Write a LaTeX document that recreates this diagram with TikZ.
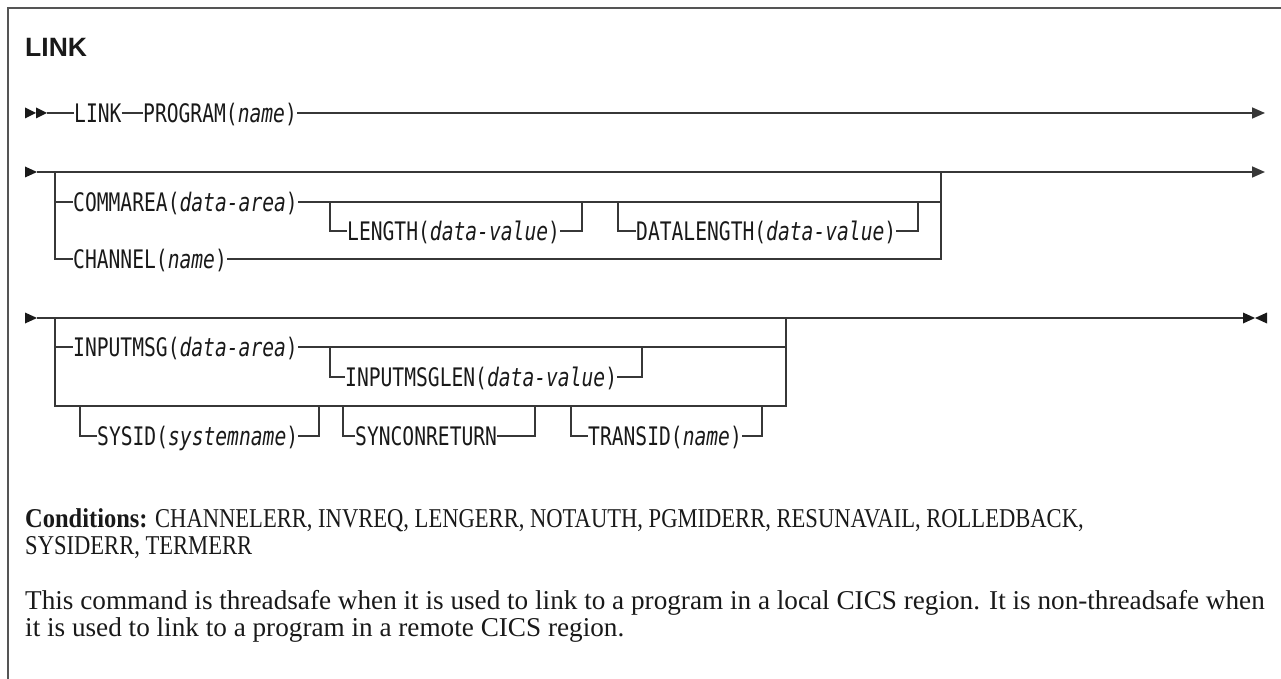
\documentclass[tikz,border=0pt]{standalone}
\usepackage{fontspec}
\setmainfont{Liberation Serif}
\newfontfamily\capsbody[FakeStretch=0.83]{Liberation Serif}
\newfontfamily\condbold[FakeStretch=0.9]{Liberation Serif}
\newfontfamily\diagfont[FakeStretch=0.77]{DejaVu Sans Mono}
\newfontfamily\titlefont{Liberation Sans}
\usetikzlibrary{arrows.meta}
\definecolor{ln}{RGB}{55,55,55}
\definecolor{frm}{RGB}{85,85,85}
\definecolor{txt}{RGB}{25,25,25}
\begin{document}
\begin{tikzpicture}[x=1pt,y=-1pt,
  conn/.style={draw=ln, line width=1.6pt},
  endarrow/.style={conn, -{Triangle[length=13pt,width=11pt]}},
  tri/.style={fill=txt},
  lbl/.style={inner sep=0pt, anchor=west, text=txt,
    font=\diagfont\fontsize{25.5pt}{29pt}\selectfont,
    text height=22pt, text depth=3.5pt},
  body/.style={inner sep=0pt, anchor=base west, text=txt,
    font=\fontsize{27.2pt}{32pt}\selectfont},
  capline/.style={body, font=\capsbody\fontsize{27.2pt}{32pt}\selectfont}]
\useasboundingbox (0,0) rectangle (1281,679);
% frame
\draw[draw=frm, line width=1.5pt] (8,679) -- (8,8) -- (1281,8);
% title
\node[inner sep=0pt, anchor=base west, text=txt,
  font=\titlefont\bfseries\fontsize{26.5pt}{30pt}\selectfont] (title) at (25,57) {LINK};

% ---------- line 1 ----------
\fill[tri] (25,107.5) -- (36,113) -- (25,118.5) -- cycle;
\fill[tri] (36,107.5) -- (47,113) -- (36,118.5) -- cycle;
\coordinate (s1) at (47,113);
\coordinate (e1) at (1265,113);
\node[lbl] (link) at (74,113) {LINK};
\node[lbl] (prog) at (143,113) {PROGRAM(\textit{name})};
\draw[conn] (s1) -- (link.west);
\draw[conn] (link.east) -- (prog.west);
\draw[endarrow] (prog.east) -- (e1);

% ---------- line 2 ----------
\fill[tri] (25,166.5) -- (37,172) -- (25,177.5) -- cycle;
\coordinate (s2) at (37,172);
\coordinate (e2) at (1265,172);
\draw[endarrow] (s2) -- (e2);
\coordinate (b2t) at (55,172);
\coordinate (r2t) at (941,172);
\coordinate (r2c) at (941,202);
\node[lbl] (comm) at (73,202) {COMMAREA(\textit{data-area})};
\node[lbl] (len) at (347,231) {LENGTH(\textit{data-value})};
\node[lbl] (dlen) at (636,231) {DATALENGTH(\textit{data-value})};
\node[lbl] (chan) at (73,259) {CHANNEL(\textit{name})};
\draw[conn] (b2t) |- (chan.west);
\draw[conn] (b2t) |- (comm.west);
\draw[conn] (comm.east) -- (r2c);
\draw[conn] (chan.east) -| (r2t);
\coordinate (l2a) at (330,202);
\coordinate (l2b) at (582,202);
\draw[conn] (l2a) |- (len.west);
\draw[conn] (len.east) -| (l2b);
\coordinate (d2a) at (618,202);
\coordinate (d2b) at (918,202);
\draw[conn] (d2a) |- (dlen.west);
\draw[conn] (dlen.east) -| (d2b);

% ---------- line 3 ----------
\fill[tri] (25,312.5) -- (37,318) -- (25,323.5) -- cycle;
\coordinate (s3) at (37,318);
\coordinate (e3) at (1243,318);
\draw[conn] (s3) -- (e3);
\fill[tri] (1243,312.5) -- (1255,318) -- (1243,323.5) -- cycle;
\fill[tri] (1267,312.5) -- (1255,318) -- (1267,323.5) -- cycle;
\coordinate (b3t) at (55,318);
\coordinate (b3b) at (55,406);
\coordinate (r3b) at (786,406);
\coordinate (r3t) at (786,318);
\coordinate (r3m) at (786,347);
\node[lbl] (imsg) at (73,347) {INPUTMSG(\textit{data-area})};
\node[lbl] (imlen) at (345,377) {INPUTMSGLEN(\textit{data-value})};
\node[lbl] (sys) at (97,436) {SYSID(\textit{systemname})};
\node[lbl] (sync) at (355,436) {SYNCONRETURN};
\node[lbl] (tran) at (588,436) {TRANSID(\textit{name})};
\draw[conn] (b3t) |- (imsg.west);
\draw[conn] (b3t) -- (b3b) -- (r3b) -- (r3t);
\draw[conn] (imsg.east) -- (r3m);
\coordinate (m3a) at (330,347);
\coordinate (m3b) at (642,347);
\draw[conn] (m3a) |- (imlen.west);
\draw[conn] (imlen.east) -| (m3b);
\coordinate (y3a) at (80,406);
\coordinate (y3b) at (319,406);
\draw[conn] (y3a) |- (sys.west);
\draw[conn] (sys.east) -| (y3b);
\coordinate (c3a) at (343,406);
\coordinate (c3b) at (535,406);
\draw[conn] (c3a) |- (sync.west);
\draw[conn] (sync.east) -| (c3b);
\coordinate (t3a) at (571,406);
\coordinate (t3b) at (762,406);
\draw[conn] (t3a) |- (tran.west);
\draw[conn] (tran.east) -| (t3b);

% ---------- body text ----------
\node[capline] (cond) at (25,527) {{\condbold\bfseries Conditions:} CHANNELERR, INVREQ, LENGERR, NOTAUTH, PGMIDERR, RESUNAVAIL, ROLLEDBACK,};
\node[capline] (cond2) at (25,554) {SYSIDERR, TERMERR};
\node[body] (ts1) at (25,609) {This command is threadsafe when it is used to link to a program in a local CICS region. It is non-threadsafe when};
\node[body] (ts2) at (25,636) {it is used to link to a program in a remote CICS region.};
\end{tikzpicture}
\end{document}
